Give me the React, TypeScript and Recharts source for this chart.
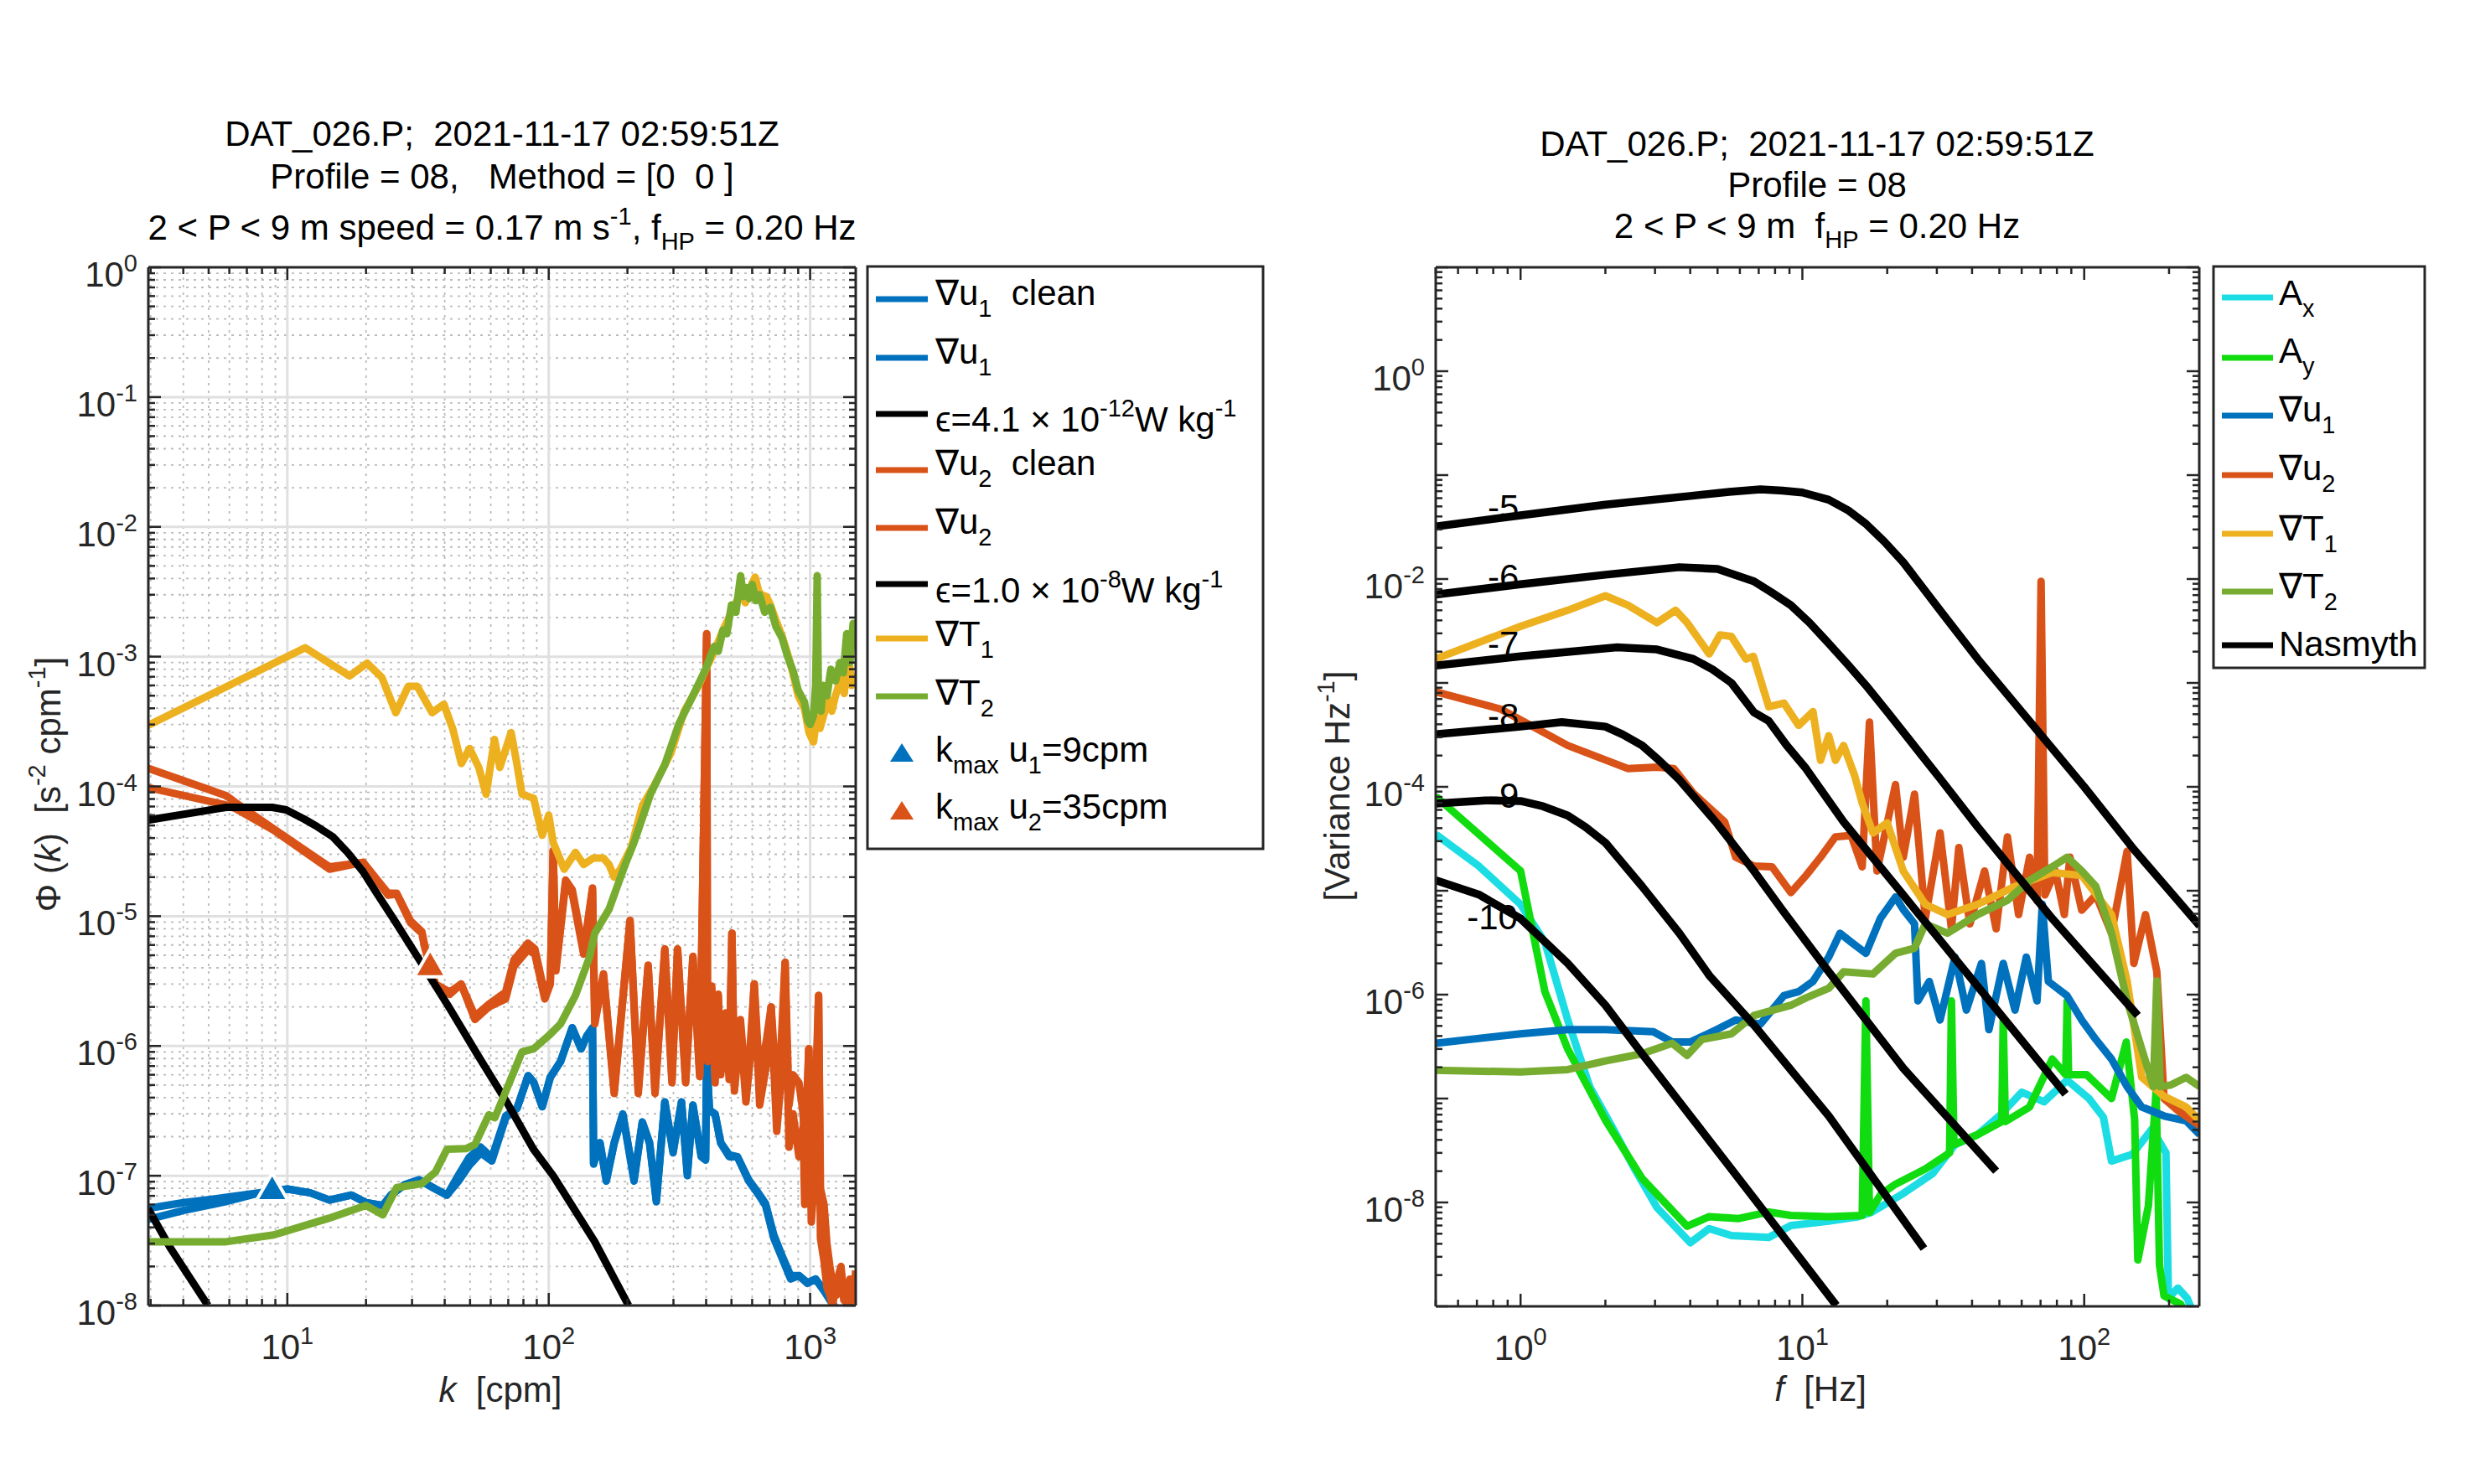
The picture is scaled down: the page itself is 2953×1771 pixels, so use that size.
import React from "react";
import { ComposedChart, Line, Scatter, XAxis, YAxis, ReferenceLine, ReferenceDot } from "recharts";

const FONT = "'Liberation Sans', Arial, Helvetica, sans-serif";
const INK = "#262626";
const BLUE = "#0072BD";
const ORANGE = "#D95319";
const YELLOW = "#EDB120";
const GREEN = "#77AC30";
const CYAN = "#1CDDE3";
const LIME = "#10DC10";
const LW = 9;
const FS = 42;
const FS2 = 29;

// ---------- left panel: wavenumber spectra (k in cpm) ----------
const u1K = [2.93, 4.0, 5.8, 7.5, 10, 12.2, 14.5, 17.6, 20, 23.2, 24.9, 28, 31.9, 36.9, 40.8, 45, 49.6, 54.9, 60.6, 68.5,
  75.6, 83.4, 87.6, 94.4, 101.4, 111, 123, 133, 140, 147, 148.5, 157, 166, 178, 192, 212, 228, 243, 258, 278,
  299, 322, 339, 356, 383, 398, 402, 412, 433, 455, 490, 527, 582, 627, 675, 726, 782, 842, 906, 977,
  1049, 1132, 1218, 1310, 1400, 1494];
const u1Clean = [4.6e-8, 5.4e-8, 6.3e-8, 7.2e-8, 7.9e-8, 7.4e-8, 6.5e-8, 7.1e-8, 6.2e-8, 5.9e-8,
  7.1e-8, 8.5e-8, 9.3e-8, 7.9e-8, 7.1e-8, 1.0e-7, 1.38e-7, 1.66e-7, 1.38e-7, 2.9e-7,
  3.3e-7, 5.9e-7, 5.25e-7, 3.4e-7, 5.75e-7, 7.6e-7, 1.38e-6, 9.5e-7, 1.2e-6, 1.38e-6,
  1.23e-7, 1.78e-7, 9.1e-8, 1.78e-7, 2.95e-7, 9.1e-8, 2.57e-7, 1.78e-7, 6.3e-8, 3.7e-7,
  1.5e-7, 3.7e-7, 1.0e-7, 3.5e-7, 1.4e-7, 1.32e-7, 8.1e-7, 3.2e-7, 2.95e-7, 1.78e-7,
  1.4e-7, 1.4e-7, 9.1e-8, 7.4e-8, 5.9e-8, 3.3e-8, 2.3e-8, 1.6e-8, 1.7e-8, 1.48e-8,
  1.6e-8, 1.29e-8, 1.02e-8, 8e-9, 7e-9, 6e-9];
const u1Raw = [5.6e-8, 6.2e-8, 6.8e-8, 7.3e-8, 7.9e-8, 7.4e-8, 6.5e-8, 7.1e-8, 6.2e-8, 5.9e-8,
  7.1e-8, 8.5e-8, 9.3e-8, 7.9e-8, 7.1e-8, 9.0e-8, 1.2e-7, 1.5e-7, 1.3e-7, 2.8e-7,
  3.3e-7, 5.9e-7, 5.25e-7, 3.4e-7, 5.75e-7, 7.6e-7, 1.38e-6, 9.5e-7, 1.2e-6, 1.38e-6,
  1.25e-7, 1.8e-7, 9.3e-8, 1.8e-7, 3.0e-7, 9.5e-8, 2.6e-7, 1.8e-7, 6.5e-8, 3.7e-7,
  1.55e-7, 3.7e-7, 1.05e-7, 3.5e-7, 1.45e-7, 1.35e-7, 8.1e-7, 3.2e-7, 3.0e-7, 1.8e-7,
  1.45e-7, 1.4e-7, 9.3e-8, 7.6e-8, 6.1e-8, 3.5e-8, 2.4e-8, 1.7e-8, 1.7e-8, 1.5e-8,
  1.6e-8, 1.3e-8, 1.05e-8, 8e-9, 7e-9, 6e-9];

const u2K = [2.93, 5.83, 6.28, 8.87, 14.5, 19.5, 24.3, 26.2, 29.6, 32.7, 33.5, 36.9, 41.8, 46.2, 52.2, 59, 68.4, 73.6, 83.2, 88.5,
  96.6, 101.4, 104, 106.5, 116, 123, 136, 147, 150, 162, 178, 204.6, 220, 240, 255, 278, 296, 311, 334, 356,
  378, 402, 405, 420, 433, 445, 455, 475, 490, 502, 513, 541, 568, 590, 611, 641, 680, 709, 745, 770,
  802, 830, 860, 906, 940, 953, 988, 1010, 1040, 1077, 1095, 1130, 1159, 1190, 1218, 1260, 1312, 1345, 1378, 1420,
  1460, 1494];
const u2Clean = [9.8e-5, 7.2e-5, 6.8e-5, 4.6e-5, 2.3e-5, 2.6e-5, 1.45e-5, 1.48e-5, 8.9e-6, 7.4e-6,
  5.8e-6, 2.9e-6, 2.5e-6, 3.0e-6, 1.6e-6, 2.0e-6, 2.3e-6, 4.1e-6, 5.5e-6, 5.1e-6,
  2.3e-6, 3.0e-6, 3.2e-5, 3.8e-6, 1.78e-5, 1.5e-5, 5.1e-6, 1.6e-5, 1.48e-6, 3.5e-6,
  4.3e-7, 9.1e-6, 4.3e-7, 4.1e-6, 4.3e-7, 5.5e-6, 5.2e-7, 5.5e-6, 5.2e-7, 4.8e-6,
  5.8e-7, 1.5e-3, 7.6e-7, 2.8e-6, 5.2e-7, 2.4e-6, 6.0e-7, 1.6e-6, 5.5e-7, 7.4e-6,
  4.5e-7, 1.38e-6, 3.7e-7, 8.1e-7, 3.0e-6, 3.5e-7, 7.1e-7, 2.0e-6, 2.2e-7, 4.9e-7,
  4.4e-6, 1.66e-7, 3.0e-7, 1.4e-7, 2.4e-7, 6.0e-8, 9.5e-7, 4.4e-8, 1.0e-7, 2.45e-6,
  3.3e-8, 2.2e-8, 1.38e-8, 1.2e-8, 1.0e-8, 1.5e-8, 2.0e-8, 1.2e-8, 1.0e-8, 1.6e-8,
  1.1e-8, 1.86e-8];
const u2Raw = [1.38e-4, 8.5e-5, 7.6e-5, 4.7e-5, 2.4e-5, 2.6e-5, 1.5e-5, 1.5e-5, 9.2e-6, 7.6e-6,
  6.0e-6, 3.0e-6, 2.6e-6, 3.0e-6, 1.7e-6, 2.1e-6, 2.6e-6, 4.6e-6, 6.2e-6, 5.6e-6,
  2.5e-6, 3.2e-6, 3.2e-5, 4.0e-6, 1.9e-5, 1.6e-5, 5.4e-6, 1.65e-5, 1.6e-6, 3.6e-6,
  4.5e-7, 9.3e-6, 4.6e-7, 4.2e-6, 4.5e-7, 5.6e-6, 5.5e-7, 5.6e-6, 5.4e-7, 4.9e-6,
  6.0e-7, 1.5e-3, 8.0e-7, 2.9e-6, 6.0e-7, 2.5e-6, 7.0e-7, 1.8e-6, 6.5e-7, 7.4e-6,
  5.5e-7, 1.6e-6, 4.8e-7, 1.0e-6, 3.0e-6, 5.5e-7, 1.1e-6, 2.0e-6, 4.5e-7, 8.0e-7,
  4.4e-6, 3.5e-7, 6.0e-7, 5.2e-7, 3.0e-7, 1.5e-7, 9.5e-7, 1.2e-7, 2.5e-7, 2.45e-6,
  8.0e-8, 6.0e-8, 3.0e-8, 2.0e-8, 1.5e-8, 1.2e-8, 1.8e-8, 1.1e-8, 1.3e-8, 1.0e-8,
  1.5e-8, 1.2e-8];

const t1K = [2.93, 11.7, 17.3, 20.2, 23, 26, 29, 31.4, 35.8, 39.7, 43, 46.3, 49.8, 54, 57.6, 62, 65, 71.8, 75.5, 79,
  87.6, 94.4, 100, 104, 114.6, 126.5, 136, 148, 162, 170, 178, 188, 207, 228, 252, 293, 330, 373,
  398, 430, 464, 500, 542, 565, 590, 616, 635, 650, 680, 705, 740, 780, 820, 860, 900, 950, 990, 1030,
  1060, 1090, 1130, 1170, 1210, 1250, 1310, 1350, 1400, 1440, 1494];
const t1V = [2.95e-4, 1.17e-3, 7.1e-4, 8.9e-4, 6.9e-4, 3.7e-4, 5.9e-4, 5.9e-4, 3.7e-4, 4.3e-4,
  2.75e-4, 1.5e-4, 1.96e-4, 1.4e-4, 8.7e-5, 2.3e-4, 1.4e-4, 2.6e-4, 1.5e-4, 8.7e-5,
  8.1e-5, 4.2e-5, 6.0e-5, 3.7e-5, 2.3e-5, 3.1e-5, 2.5e-5, 2.8e-5, 2.8e-5, 2.5e-5,
  2.0e-5, 2.3e-5, 3.4e-5, 7.1e-5, 1.0e-4, 1.8e-4, 3.8e-4, 5.9e-4,
  7.9e-4, 1.1e-3, 1.6e-3, 2.2e-3, 3.1e-3, 2.6e-3, 3.4e-3, 4.1e-3, 3.2e-3, 3.0e-3, 2.9e-3, 2.5e-3,
  1.9e-3, 1.45e-3, 1.05e-3, 7.4e-4, 5.0e-4, 4.0e-4, 2.6e-4, 2.2e-4, 3.5e-4, 2.8e-4,
  3.6e-4, 4.7e-4, 3.8e-4, 5.0e-4, 6.8e-4, 5.2e-4, 1.07e-3, 6.0e-4, 7.4e-4];

const t2K = [2.93, 5.83, 8.87, 14.4, 20, 23.2, 26.2, 32.7, 36.9, 40.8, 48.4, 52.2, 59, 62.2, 70.1, 79, 87.6, 100, 111, 126.5,
  143, 150, 170, 196, 212, 245, 278, 314, 356,
  398, 415, 430, 445, 464, 480, 500, 520, 542, 556, 570, 585, 600, 620, 640, 670, 705, 740, 780, 820,
  860, 900, 950, 980, 1000, 1030, 1050, 1064, 1075, 1100, 1120, 1160, 1200, 1250, 1300, 1340, 1380, 1420, 1460, 1494];
const t2V = [3.1e-8, 3.1e-8, 3.5e-8, 4.7e-8, 5.9e-8, 5.0e-8, 8.1e-8, 8.7e-8, 1.07e-7, 1.6e-7,
  1.62e-7, 1.74e-7, 2.95e-7, 2.8e-7, 5.0e-7, 9.0e-7, 9.5e-7, 1.2e-6, 1.48e-6, 2.45e-6,
  4.8e-6, 7.4e-6, 1.13e-5, 2.5e-5, 3.7e-5, 8.7e-5, 1.47e-4, 3.0e-4, 5.0e-4,
  8.0e-4, 1.0e-3, 1.2e-3, 1.1e-3, 1.6e-3, 1.5e-3, 2.5e-3, 2.2e-3, 4.2e-3, 2.9e-3,
  3.4e-3, 2.8e-3, 3.6e-3, 2.7e-3, 3.0e-3, 2.2e-3, 2.4e-3, 1.7e-3, 1.4e-3, 1.0e-3,
  7.8e-4, 5.5e-4, 4.5e-4, 3.2e-4, 3.0e-4, 3.5e-4, 6.0e-4, 4.2e-3, 5.0e-4, 3.8e-4,
  6.0e-4, 5.0e-4, 8.0e-4, 6.5e-4, 9.0e-4, 7.5e-4, 1.5e-3, 9.0e-4, 1.8e-3, 1.3e-3];

// Nasmyth fits, left panel
const nasLoK = [2.93, 3.56, 4.97];
const nasLoV = [5.6e-8, 2.8e-8, 1.0e-8]; // eps = 4.1e-12
const nasHiK = [2.93, 5.83, 8.75, 9.9, 11.6, 13, 14.9, 17, 19.5, 22, 25.5, 32.7, 41.8, 53.5, 68.5, 87.4, 104, 150, 202];
const nasHiV = [5.5e-5, 6.9e-5, 6.9e-5, 6.6e-5, 5.6e-5, 4.9e-5, 4.1e-5, 3.1e-5, 2.2e-5, 1.5e-5, 9.5e-6, 4.3e-6, 1.95e-6, 8.5e-7, 3.8e-7, 1.6e-7, 1.0e-7, 3.1e-8, 1.0e-8]; // eps = 1.0e-8

// k_max markers
const kmax1 = [{ x: 8.75, y: 7.9e-8 }];
const kmax2 = [{ x: 35.2, y: 4.2e-6 }];

// ---------- right panel: frequency spectra (f in Hz) ----------
const axF = [0.5, 0.71, 1.0, 1.22, 1.47, 1.76, 2.1, 2.54, 3.05, 4.0, 4.67, 5.6, 7.6, 9.1, 12.4, 15.8, 17.5, 22.8, 29, 34.8,
  41.9, 50, 60, 72, 87, 104, 117, 125, 148, 174, 195, 199, 215, 232, 257];
const axV = [3.5e-5, 1.73e-5, 7.4e-6, 3.2e-6, 5.7e-7, 1.3e-7, 5.5e-8, 2.1e-8, 8.9e-9, 4.1e-9,
  5.6e-9, 4.8e-9, 4.6e-9, 6.0e-9, 6.6e-9, 7.3e-9, 8.0e-9, 1.22e-8, 1.9e-8, 3.6e-8,
  4.5e-8, 6.8e-8, 1.15e-7, 9.3e-8, 1.5e-7, 1.0e-7, 6.6e-8, 2.5e-8, 2.9e-8, 5.1e-8,
  3.0e-8, 1.2e-9, 1.5e-9, 1.2e-9, 6e-10];

const ayF = [0.5, 1.0, 1.22, 1.47, 2.0, 2.7, 3.9, 4.67, 5.95, 7.6, 9.1, 12.4, 16.3, 16.8, 17.3, 19, 21.4, 27.3, 33.3, 33.8,
  34.5, 41.9, 51, 51.6, 52.5, 64, 77, 86, 87, 88, 102, 125, 141, 151, 155, 169, 180, 185, 192, 220, 257];
const ayV = [8.1e-5, 1.55e-5, 1.07e-6, 3.0e-7, 6.2e-8, 1.7e-8, 5.9e-9, 7.3e-9, 7.0e-9, 8.1e-9,
  7.5e-9, 7.3e-9, 7.5e-9, 8.7e-7, 8.0e-9, 1.2e-8, 1.5e-8, 2.1e-8, 3.0e-8, 8.7e-7,
  3.6e-8, 4.5e-8, 6.0e-8, 5.7e-7, 6.0e-8, 8.3e-8, 2.4e-7, 1.7e-7, 8.7e-7, 1.7e-7,
  1.7e-7, 1.0e-7, 3.5e-7, 6.3e-8, 2.8e-9, 9.3e-9, 1.2e-7, 2.5e-9, 1.26e-9, 1.05e-9, 5e-10];

const ru1F = [0.5, 1.0, 1.47, 2.0, 2.96, 3.45, 4.0, 4.96, 5.8, 7.1, 8.6, 9.7, 10.9, 12.4, 13.6, 14.9, 16.8, 18.9, 21.4, 22.8,
  25, 25.7, 28.2, 30.8, 34.8, 38.2, 43.2, 45.9, 51.6, 56.8, 62.3, 68, 71, 74.6, 86.8, 98, 110, 125, 142, 160,
  192, 230, 257];
const ru1V = [3.4e-7, 4.2e-7, 4.6e-7, 4.6e-7, 4.4e-7, 3.5e-7, 3.5e-7, 4.6e-7, 5.7e-7, 5.2e-7,
  9.8e-7, 1.07e-6, 1.34e-6, 2.3e-6, 3.9e-6, 3.2e-6, 2.5e-6, 5.4e-6, 8.7e-6, 6.6e-6,
  4.8e-6, 8.7e-7, 1.34e-6, 5.7e-7, 2.3e-6, 7.1e-7, 2.0e-6, 4.6e-7, 2.0e-6, 7.1e-7,
  2.3e-6, 8.7e-7, 7.4e-6, 1.34e-6, 9.8e-7, 5.7e-7, 3.7e-7, 2.4e-7, 1.3e-7, 8.3e-8,
  6.8e-8, 6.1e-8, 4.5e-8];

const ru2F = [0.5, 0.85, 1.47, 2.4, 3.05, 3.5, 4.1, 5.3, 5.8, 6.73, 7.8, 9.1, 10.3, 11.6, 13.1, 14.9, 16.3, 17.3, 18.4, 21.4,
  22.8, 25, 27.3, 30.8, 33.8, 35.9, 39.3, 44.3, 48.7, 53.4, 58.5, 64, 68, 70.3, 72.5, 79, 85, 89, 98, 110,
  125, 142, 150, 165, 181, 192, 216, 257];
const ru2V = [8.2e-4, 5.6e-4, 2.5e-4, 1.5e-4, 1.55e-4, 1.5e-4, 8.7e-5, 4.6e-5, 2.1e-5, 1.73e-5,
  1.7e-5, 9.6e-6, 1.4e-5, 2.1e-5, 3.3e-5, 3.4e-5, 1.7e-5, 4.2e-4, 1.55e-5, 1.05e-4,
  2.1e-5, 8.5e-5, 5.4e-6, 3.6e-5, 4.3e-6, 2.6e-5, 4.8e-6, 1.55e-5, 4.3e-6, 3.3e-5,
  5.9e-6, 2.1e-5, 8.0e-6, 9.5e-3, 9.1e-6, 1.55e-5, 5.9e-6, 2.1e-5, 6.5e-6, 9.1e-6,
  3.9e-6, 2.4e-5, 2.0e-6, 5.9e-6, 1.66e-6, 1.0e-7, 7.6e-8, 5.5e-8];

const rt1F = [0.5, 0.71, 1.0, 1.47, 2.0, 2.4, 3.05, 3.55, 3.9, 4.67, 5.1, 5.6, 6.3, 6.7, 7.6, 8.6, 9.7, 10.9, 11.6, 12.4,
  13.1, 14.0, 15.3, 16.3, 17.8, 20, 22.8, 27.3, 32.7, 41.9, 56.8, 77, 98, 125, 142, 160, 192, 230, 257];
const rt1V = [1.7e-3, 2.45e-3, 3.5e-3, 5.0e-3, 6.9e-3, 5.6e-3, 3.8e-3, 5.0e-3, 3.8e-3, 1.9e-3,
  2.9e-3, 2.8e-3, 1.7e-3, 1.8e-3, 5.9e-4, 6.4e-4, 3.9e-4, 5.3e-4, 1.8e-4, 3.1e-4,
  1.8e-4, 2.5e-4, 1.3e-4, 7.0e-5, 3.6e-5, 4.5e-5, 1.55e-5, 7.4e-6, 5.9e-6, 7.4e-6,
  1.1e-5, 1.5e-5, 1.4e-5, 5.9e-6, 1.35e-6, 1.6e-7, 1.05e-7, 8.3e-8, 6.1e-8];

const rt2F = [0.5, 1.0, 1.47, 2.0, 2.7, 3.45, 3.9, 4.4, 5.6, 6.73, 9.1, 10.3, 12.4, 14.0, 17.8, 21.4, 25, 27.3, 32.7, 41.9,
  53.4, 64, 77, 87, 98, 110, 125, 142, 160, 176, 181, 186, 203, 230, 257];
const rt2V = [1.87e-7, 1.8e-7, 1.9e-7, 2.3e-7, 2.7e-7, 3.4e-7, 2.6e-7, 3.7e-7, 4.2e-7, 6.3e-7,
  7.9e-7, 9.3e-7, 1.15e-6, 1.66e-6, 1.58e-6, 2.5e-6, 2.8e-6, 4.8e-6, 3.9e-6, 5.9e-6,
  8.1e-6, 1.26e-5, 1.7e-5, 2.1e-5, 1.55e-5, 1.1e-5, 3.9e-6, 8.7e-7, 3.0e-7, 1.3e-7,
  1.35e-6, 1.3e-7, 1.35e-7, 1.6e-7, 1.3e-7];

// Nasmyth family, right panel (labels are log10 epsilon)
const n5F = [0.5, 1.0, 2.0, 4.0, 5.5, 7.1, 8.5, 10, 12.4, 14.5, 16.8, 19.5, 22.8, 30.8, 41.9, 60.3, 100, 150, 257];
const n5V = [3.2e-2, 4.1e-2, 5.2e-2, 6.3e-2, 6.9e-2, 7.3e-2, 7.1e-2, 6.8e-2, 5.8e-2, 4.6e-2, 3.4e-2, 2.3e-2, 1.45e-2, 5.0e-3, 1.7e-3, 5.2e-4, 1.0e-4, 2.5e-5, 4.6e-6];
const n6F = [0.5, 1.0, 2.0, 3.66, 5.0, 6.73, 7.8, 9.1, 10.6, 12.4, 14.5, 16.8, 20.1, 30.8, 41.9, 77, 155];
const n6V = [7.1e-3, 8.9e-3, 1.1e-2, 1.3e-2, 1.25e-2, 9.5e-3, 7.4e-3, 5.6e-3, 3.8e-3, 2.4e-3, 1.5e-3, 9.5e-4, 5.2e-4, 1.2e-4, 4.1e-5, 5.4e-6, 6.3e-7];
const n7F = [0.5, 1.0, 2.2, 3.05, 4.1, 4.8, 5.6, 6.73, 7.6, 8.8, 10.3, 14, 22.8, 85.9];
const n7V = [1.47e-3, 1.8e-3, 2.2e-3, 2.1e-3, 1.7e-3, 1.35e-3, 1.0e-3, 5.2e-4, 4.3e-4, 2.5e-4, 1.5e-4, 4.6e-5, 9.1e-6, 1.1e-7];
const n8F = [0.5, 1.0, 1.4, 2.0, 2.3, 2.7, 3.1, 3.66, 4.96, 6.73, 8.5, 12.4, 22.8, 48.7];
const n8V = [3.2e-4, 3.8e-4, 4.2e-4, 3.8e-4, 3.2e-4, 2.5e-4, 1.8e-4, 1.17e-4, 4.5e-5, 1.55e-5, 6.5e-6, 1.66e-6, 1.96e-7, 2.0e-8];
const n9F = [0.5, 0.75, 1.0, 1.2, 1.47, 1.7, 2.0, 2.7, 3.66, 4.7, 6.73, 12.4, 27];
const n9V = [6.9e-5, 7.4e-5, 7.3e-5, 6.5e-5, 5.3e-5, 4.1e-5, 2.9e-5, 1.1e-5, 3.9e-6, 1.5e-6, 5.1e-7, 6.8e-8, 3.6e-9];
const n10F = [0.5, 0.71, 1.0, 1.47, 2.0, 2.7, 3.66, 6.73, 13.2];
const n10V = [1.26e-5, 9.2e-6, 5.4e-6, 2.0e-6, 7.9e-7, 2.7e-7, 9.3e-8, 1.1e-8, 1.02e-9];
const nasLabels = ["-5", "-6", "-7", "-8", "-9", "-10"];
const nasLabelF = [0.765, 0.765, 0.765, 0.765, 0.765, 0.645];
const nasLabelV = [4.9e-2, 1.05e-2, 2.37e-3, 4.8e-4, 8.3e-5, 5.6e-6];

// ---------- axis ticks ----------
const leftXMajor = [10, 100, 1000];
const leftXMinor = [3, 4, 5, 6, 7, 8, 9, 20, 30, 40, 50, 60, 70, 80, 90, 200, 300, 400, 500, 600, 700, 800, 900];
const leftYMajor = [1, 1e-1, 1e-2, 1e-3, 1e-4, 1e-5, 1e-6, 1e-7, 1e-8];
const rightXMajor = [1, 10, 100];
const rightXMinor = [0.5, 0.6, 0.7, 0.8, 0.9, 2, 3, 4, 5, 6, 7, 8, 9, 20, 30, 40, 50, 60, 70, 80, 90, 200];
const rightYMajor = [10, 1, 1e-1, 1e-2, 1e-3, 1e-4, 1e-5, 1e-6, 1e-7, 1e-8, 1e-9];
const rightYLabelled = [1, 1e-2, 1e-4, 1e-6, 1e-8];
const MULT = [2, 3, 4, 5, 6, 7, 8, 9];
const minorsOf = (decades: number[]) => decades.flatMap((d) => MULT.map((m) => m * d));
const leftYMinor = minorsOf(leftYMajor.slice(1));
const rightYMinor = minorsOf(rightYMajor.slice(1));

const LX = [2.94, 1494];
const LY = [1e-8, 1];
const RX = [0.5, 256];
const RY = [1e-9, 10];

const pts = (xs: number[], ys: number[]) => xs.map((x, i) => ({ x, y: ys[i] }));
const isIn = (list: number[], v: number) => list.some((m) => Math.abs(m - v) <= m * 1e-6);
const AXIS = { stroke: INK, strokeWidth: 3 };

function tickMaker(side: string, majors: number[], labelled: number[]) {
  return (p: any) => {
    const { x, y } = p;
    const v = p.payload.value;
    const len = isIn(majors, v) ? 15 : 8;
    const end =
      side === "bottom" ? [x, y - len] : side === "top" ? [x, y + len] : side === "left" ? [x + len, y] : [x - len, y];
    const e = Math.round(Math.log10(v));
    const show = isIn(labelled, v);
    return (
      <g>
        <line x1={x} y1={y} x2={end[0]} y2={end[1]} stroke={INK} strokeWidth={2.5} />
        {show && side === "bottom" && (
          <text x={x} y={y + 64} textAnchor="middle" fontSize={FS} fill={INK} fontFamily={FONT}>
            10<tspan dy={-18} fontSize={FS2}>{e}</tspan>
          </text>
        )}
        {show && side === "left" && (
          <text x={x - 13} y={y + 23} textAnchor="end" fontSize={FS} fill={INK} fontFamily={FONT}>
            10<tspan dy={-18} fontSize={FS2}>{e}</tspan>
          </text>
        )}
      </g>
    );
  };
}

const triangle = (color: string) => (p: any) => {
  const { cx, cy } = p;
  return <path d={`M${cx},${cy - 19} L${cx + 19},${cy + 14} L${cx - 19},${cy + 14} Z`} fill={color} stroke="#fff" strokeWidth={4} />;
};

const lineProps = { dataKey: "y", dot: false, activeDot: false, isAnimationActive: false, strokeLinejoin: "round" as const, legendType: "none" as const };

function axes(xDom: number[], yDom: number[], xMaj: number[], xMin: number[], yMaj: number[], yMin: number[], yLab: number[], yWidth: number, xHeight: number) {
  const xt = [...xMaj, ...xMin];
  const yt = [...yMaj, ...yMin];
  const common = { type: "number" as const, scale: "log" as const, allowDataOverflow: true, interval: 0, tickSize: 0, tickMargin: 0, tickLine: false, axisLine: AXIS };
  return [
    <XAxis key="xb" dataKey="x" domain={xDom} ticks={xt} height={xHeight} tick={tickMaker("bottom", xMaj, xMaj)} {...common} />,
    <XAxis key="xt" xAxisId="t" orientation="top" dataKey="x" domain={xDom} ticks={xt} height={1} tick={tickMaker("top", xMaj, [])} {...common} />,
    <YAxis key="yl" dataKey="y" domain={yDom} ticks={yt} width={yWidth} tick={tickMaker("left", yMaj, yLab)} {...common} />,
    <YAxis key="yr" yAxisId="r" orientation="right" dataKey="y" domain={yDom} ticks={yt} width={1} tick={tickMaker("right", yMaj, [])} {...common} />,
  ];
}

function LeftPanel() {
  return (
    <ComposedChart width={1040} height={1700} margin={{ top: 318, right: 18, bottom: 0, left: 0 }}>
      {leftXMinor.map((v) => (
        <ReferenceLine key={"gxm" + v} x={v} stroke="#bcbcbc" strokeWidth={1.8} strokeDasharray="3 6" />
      ))}
      {leftYMinor.map((v) => (
        <ReferenceLine key={"gym" + v} y={v} stroke="#bcbcbc" strokeWidth={1.8} strokeDasharray="3 6" />
      ))}
      {leftXMajor.map((v) => (
        <ReferenceLine key={"gx" + v} x={v} stroke="#e0e0e0" strokeWidth={3} />
      ))}
      {leftYMajor.slice(1, -1).map((v) => (
        <ReferenceLine key={"gy" + v} y={v} stroke="#e0e0e0" strokeWidth={3} />
      ))}
      {axes(LX, LY, leftXMajor, leftXMinor, leftYMajor, leftYMinor, leftYMajor, 177, 142)}
      <Line data={pts(u1K, u1Clean)} stroke={BLUE} strokeWidth={LW} {...lineProps} />
      <Line data={pts(u1K, u1Raw)} stroke={BLUE} strokeWidth={LW} {...lineProps} />
      <Line data={pts(nasLoK, nasLoV)} stroke="#000" strokeWidth={LW} {...lineProps} />
      <Line data={pts(u2K, u2Clean)} stroke={ORANGE} strokeWidth={LW} {...lineProps} />
      <Line data={pts(u2K, u2Raw)} stroke={ORANGE} strokeWidth={LW} {...lineProps} />
      <Line data={pts(nasHiK, nasHiV)} stroke="#000" strokeWidth={LW} {...lineProps} />
      <Line data={pts(t1K, t1V)} stroke={YELLOW} strokeWidth={LW} {...lineProps} />
      <Line data={pts(t2K, t2V)} stroke={GREEN} strokeWidth={LW} {...lineProps} />
      <Scatter data={kmax1} dataKey="y" fill={BLUE} shape={triangle(BLUE)} isAnimationActive={false} legendType="none" />
      <Scatter data={kmax2} dataKey="y" fill={ORANGE} shape={triangle(ORANGE)} isAnimationActive={false} legendType="none" />
    </ComposedChart>
  );
}

function RightPanel() {
  const nas = [
    [n5F, n5V], [n6F, n6V], [n7F, n7V], [n8F, n8V], [n9F, n9V], [n10F, n10V],
  ];
  return (
    <ComposedChart width={1104} height={1700} margin={{ top: 318, right: 19, bottom: 0, left: 0 }}>
      {axes(RX, RY, rightXMajor, rightXMinor, rightYMajor, rightYMinor, rightYLabelled, 173, 141)}
      <Line data={pts(axF, axV)} stroke={CYAN} strokeWidth={LW} {...lineProps} />
      <Line data={pts(ayF, ayV)} stroke={LIME} strokeWidth={LW} {...lineProps} />
      <Line data={pts(ru1F, ru1V)} stroke={BLUE} strokeWidth={LW} {...lineProps} />
      <Line data={pts(ru2F, ru2V)} stroke={ORANGE} strokeWidth={LW} {...lineProps} />
      <Line data={pts(rt1F, rt1V)} stroke={YELLOW} strokeWidth={LW} {...lineProps} />
      <Line data={pts(rt2F, rt2V)} stroke={GREEN} strokeWidth={LW} {...lineProps} />
      {nas.map(([f, v], i) => (
        <Line key={"n" + i} data={pts(f, v)} stroke="#000" strokeWidth={9.5} {...lineProps} />
      ))}
      {nasLabels.map((t, i) => (
        <ReferenceDot
          key={"nl" + i}
          x={nasLabelF[i]}
          y={nasLabelV[i]}
          r={0}
          shape={(p: any) => (
            <text x={p.cx} y={p.cy} dominantBaseline="central" fontSize={FS} fontFamily={FONT} fill="#000">
              {t}
            </text>
          )}
        />
      ))}
    </ComposedChart>
  );
}

const Sub = ({ t }: { t: string }) => (
  <tspan dy={14} fontSize={FS2}>
    {t}
  </tspan>
);

function Overlay() {
  const T = { fontFamily: FONT, fontSize: FS, fill: "#000", style: { whiteSpace: "pre" as const } };
  return (
    <svg width={2953} height={1771} style={{ position: "absolute", left: 0, top: 0, pointerEvents: "none" }}>
      {/* left titles */}
      <text x={599} y={174} textAnchor="middle" {...T}>DAT_026.P;  2021-11-17 02:59:51Z</text>
      <text x={599} y={225} textAnchor="middle" {...T}>Profile = 08,   Method = [0  0 ]</text>
      <text x={599} y={286} textAnchor="middle" {...T}>
        2 {"<"} P {"<"} 9 m speed = 0.17 m s<tspan dy={-18} fontSize={FS2}>-1</tspan>
        <tspan dy={18}>, f</tspan>
        <tspan dy={12} fontSize={FS2}>HP</tspan>
        <tspan dy={-12}> = 0.20 Hz</tspan>
      </text>
      {/* right titles */}
      <text x={2168} y={186} textAnchor="middle" {...T}>DAT_026.P;  2021-11-17 02:59:51Z</text>
      <text x={2168} y={235} textAnchor="middle" {...T}>Profile = 08</text>
      <text x={2168} y={284} textAnchor="middle" {...T}>
        2 {"<"} P {"<"} 9 m  f<tspan dy={12} fontSize={FS2}>HP</tspan>
        <tspan dy={-12}> = 0.20 Hz</tspan>
      </text>

      {/* axis labels */}
      <text x={597} y={1673} textAnchor="middle" {...T} fill={INK}>
        <tspan fontStyle="italic">k</tspan>  [cpm]
      </text>
      <text x={2172} y={1672} textAnchor="middle" {...T} fill={INK}>
        <tspan fontStyle="italic">f</tspan>  [Hz]
      </text>
      <text transform="translate(72,936) rotate(-90)" textAnchor="middle" {...T} fill={INK}>
        Φ (<tspan fontStyle="italic">k</tspan>)  [s<tspan dy={-18} fontSize={FS2}>-2</tspan>
        <tspan dy={18}> cpm</tspan>
        <tspan dy={-18} fontSize={FS2}>-1</tspan>
        <tspan dy={18}>]</tspan>
      </text>
      <text transform="translate(1610,938) rotate(-90)" textAnchor="middle" {...T} fill={INK}>
        [Variance Hz<tspan dy={-18} fontSize={FS2}>-1</tspan>
        <tspan dy={18}>]</tspan>
      </text>

      {/* left legend */}
      <rect x={1035} y={318} width={472} height={695} fill="#fff" stroke={INK} strokeWidth={3} />
      <line x1={1045} x2={1107} y1={357} y2={357} stroke={BLUE} strokeWidth={7} />
      <text x={1116} y={364} {...T}>∇u<Sub t="1" /><tspan dy={-14}>  clean</tspan></text>
      <line x1={1045} x2={1107} y1={427} y2={427} stroke={BLUE} strokeWidth={7} />
      <text x={1116} y={434} {...T}>∇u<Sub t="1" /></text>
      <line x1={1045} x2={1107} y1={494} y2={494} stroke="#000" strokeWidth={7} />
      <text x={1116} y={515} {...T}>
        ϵ=4.1 × 10<tspan dy={-18} fontSize={FS2}>-12</tspan>
        <tspan dy={18}>W kg</tspan>
        <tspan dy={-18} fontSize={FS2}>-1</tspan>
      </text>
      <line x1={1045} x2={1107} y1={561} y2={561} stroke={ORANGE} strokeWidth={7} />
      <text x={1116} y={567} {...T}>∇u<Sub t="2" /><tspan dy={-14}>  clean</tspan></text>
      <line x1={1045} x2={1107} y1={630} y2={630} stroke={ORANGE} strokeWidth={7} />
      <text x={1116} y={637} {...T}>∇u<Sub t="2" /></text>
      <line x1={1045} x2={1107} y1={697} y2={697} stroke="#000" strokeWidth={7} />
      <text x={1116} y={719} {...T}>
        ϵ=1.0 × 10<tspan dy={-18} fontSize={FS2}>-8</tspan>
        <tspan dy={18}>W kg</tspan>
        <tspan dy={-18} fontSize={FS2}>-1</tspan>
      </text>
      <line x1={1045} x2={1107} y1={762} y2={762} stroke={YELLOW} strokeWidth={7} />
      <text x={1116} y={771} {...T}>∇T<Sub t="1" /></text>
      <line x1={1045} x2={1107} y1={831} y2={831} stroke={GREEN} strokeWidth={7} />
      <text x={1116} y={841} {...T}>∇T<Sub t="2" /></text>
      <path d="M1076,887 L1090,909 L1062,909 Z" fill={BLUE} />
      <text x={1116} y={909} {...T}>k<Sub t="max" /><tspan dy={-14}> u</tspan><Sub t="1" /><tspan dy={-14}>=9cpm</tspan></text>
      <path d="M1076,956 L1090,978 L1062,978 Z" fill={ORANGE} />
      <text x={1116} y={977} {...T}>k<Sub t="max" /><tspan dy={-14}> u</tspan><Sub t="2" /><tspan dy={-14}>=35cpm</tspan></text>

      {/* right legend */}
      <rect x={2641} y={318} width={252} height={479} fill="#fff" stroke={INK} strokeWidth={3} />
      <line x1={2651} x2={2712} y1={355} y2={355} stroke={CYAN} strokeWidth={7} />
      <text x={2719} y={364} {...T}>A<Sub t="x" /></text>
      <line x1={2651} x2={2712} y1={427} y2={427} stroke={LIME} strokeWidth={7} />
      <text x={2719} y={433} {...T}>A<Sub t="y" /></text>
      <line x1={2651} x2={2712} y1={496} y2={496} stroke={BLUE} strokeWidth={7} />
      <text x={2719} y={503} {...T}>∇u<Sub t="1" /></text>
      <line x1={2651} x2={2712} y1={567} y2={567} stroke={ORANGE} strokeWidth={7} />
      <text x={2719} y={573} {...T}>∇u<Sub t="2" /></text>
      <line x1={2651} x2={2712} y1={637} y2={637} stroke={YELLOW} strokeWidth={7} />
      <text x={2719} y={645} {...T}>∇T<Sub t="1" /></text>
      <line x1={2651} x2={2712} y1={706} y2={706} stroke={GREEN} strokeWidth={7} />
      <text x={2719} y={714} {...T}>∇T<Sub t="2" /></text>
      <line x1={2651} x2={2712} y1={770} y2={770} stroke="#000" strokeWidth={7} />
      <text x={2719} y={783} {...T}>Nasmyth</text>
    </svg>
  );
}

export default function App() {
  return (
    <div style={{ position: "absolute", left: 0, top: 0, width: 2953, height: 1771, background: "#fff", fontFamily: FONT, overflow: "hidden" }}>
      <div style={{ position: "absolute", left: 0, top: 0 }}>
        <LeftPanel />
      </div>
      <div style={{ position: "absolute", left: 1540, top: 0 }}>
        <RightPanel />
      </div>
      <Overlay />
    </div>
  );
}
